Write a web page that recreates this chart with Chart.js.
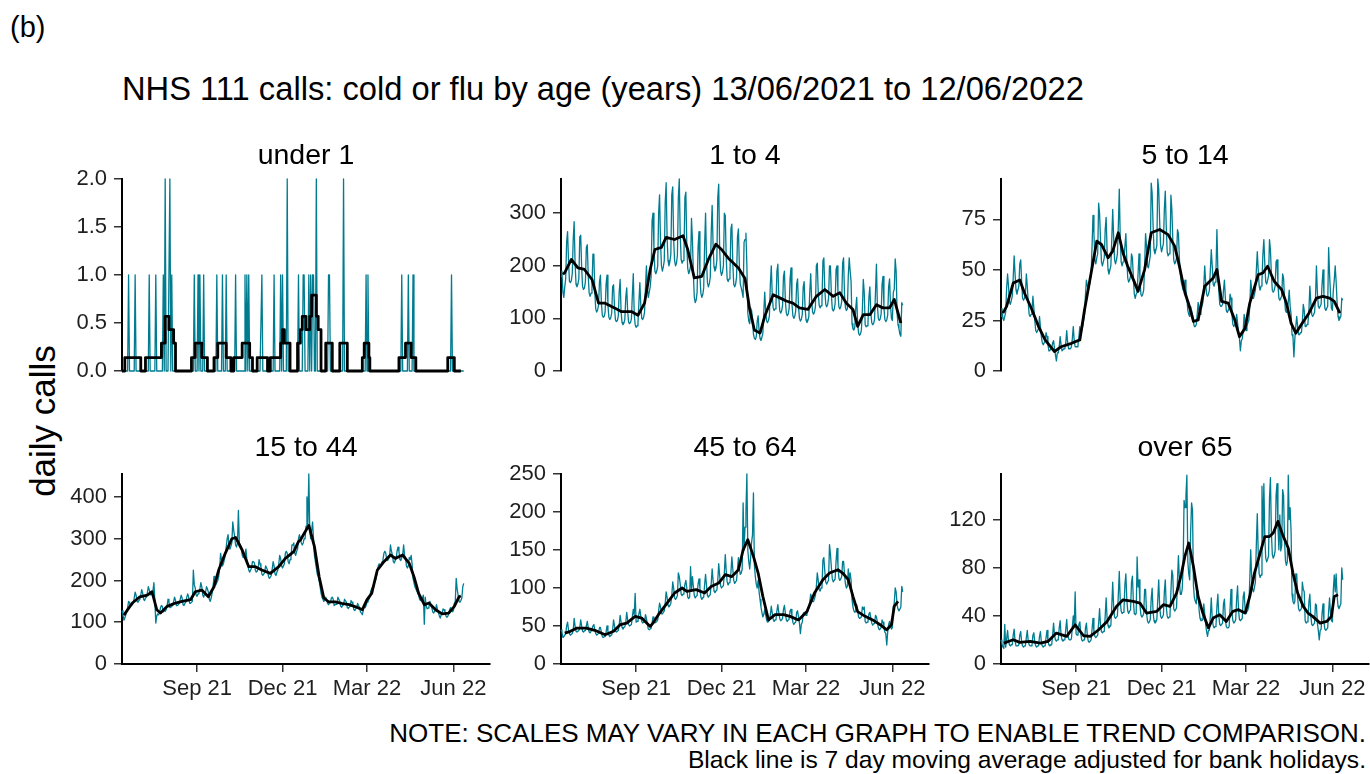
<!DOCTYPE html>
<html>
<head>
<meta charset="utf-8">
<script src="https://cdn.jsdelivr.net/npm/chart.js@4.4.0/dist/chart.umd.min.js"></script>
<style>
html,body{margin:0;padding:0;background:#fff;}
body{width:1370px;height:774px;position:relative;overflow:hidden;font-family:"Liberation Sans",Arial,sans-serif;color:#000;}
.t{position:absolute;white-space:nowrap;line-height:1;}
canvas{position:absolute;}
</style>
</head>
<body>
<script>
// ---------------- DATA ----------------
// Day index 0 = 13/06/2021 ... 364 = 12/06/2022
const X_TICK_DAYS = [80, 171, 261, 353];
const X_TICK_LABELS = ['Sep 21', 'Dec 21', 'Mar 22', 'Jun 22'];

// under 1: days with non-zero calls (all other days are 0)
const under1SpikeDays = [7,14,29,36,44,46,51,53,77,81,83,87,101,107,111,121,131,133,135,149,162,169,171,176,188,193,194,199,201,203,204,207,220,221,236,260,262,298,305,310,351];
const under1SpikeValues = [1,1,1,1,1,2,2,1,1,1,1,1,1,1,1,1,1,1,1,1,1,1,1,2,1,1,1,1,1,1,1,2,1,1,2,1,1,1,1,1,1];
// under 1: 7 day average (step changes)
const under1AvgDays = [0,3,20,25,42,46,50,55,57,74,78,85,91,98,102,111,116,119,128,136,139,144,155,158,169,171,173,179,187,190,192,196,200,202,207,209,212,217,224,232,240,256,258,263,264,295,302,308,313,347,354,361];
const under1AvgValues = [0,.14,0,.14,.29,.57,.43,.29,0,.14,.29,.14,0,.14,.29,.14,0,.14,.29,.14,0,.14,0,.14,.29,.43,.29,0,.29,.43,.57,.43,.57,.79,.57,.43,0,.29,0,.29,0,.14,.29,.14,0,.14,.29,.14,0,.14,0,0];
const under1YTicks = [0, 0.5, 1, 1.5, 2];
const under1YLabels = ['0.0', '0.5', '1.0', '1.5', '2.0'];

// 1 to 4: daily calls
const calls1to4 = [
180,190,150,140,160,175,245,
265,210,170,168,172,185,250,
284,205,165,160,165,175,255,
258,196,160,155,158,170,235,
240,182,148,142,148,160,222,
222,150,118,112,116,125,170,
182,130,106,102,104,112,165,
182,125,102,98,101,110,160,
164,120,97,94,96,104,150,
174,113,92,88,91,98,140,
158,114,93,90,92,99,145,
185,108,88,83,86,92,130,
168,125,100,98,102,112,160,
200,160,140,150,160,180,285,
300,235,190,185,190,200,300,
335,245,200,190,198,210,320,
358,255,210,200,208,222,335,
350,250,210,200,205,220,330,
365,258,212,205,210,225,330,
340,240,195,185,190,200,290,
250,185,140,130,135,150,235,
265,180,148,140,145,158,240,
300,210,168,160,166,178,262,
315,240,198,190,195,210,330,
355,232,190,182,188,200,300,
295,215,175,170,175,185,270,
279,205,165,160,165,178,255,
270,200,165,158,150,140,245,
250,262,200,110,95,90,120,
115,100,70,62,60,65,95,
105,75,62,58,64,72,110,
150,115,95,92,96,105,165,
200,145,120,115,118,128,190,
203,140,115,110,114,124,180,
190,133,110,105,108,118,175,
196,128,105,100,104,114,165,
175,122,100,95,98,107,160,
170,120,97,92,96,104,150,
185,135,112,108,112,122,200,
205,150,125,120,124,135,209,
215,155,127,122,126,138,200,
200,145,118,114,117,128,193,
200,150,122,118,122,132,205,
215,145,120,115,118,180,215,
190,170,90,80,78,84,120,
140,90,72,68,70,78,115,
174,150,88,84,86,92,140,
160,112,92,88,90,98,150,
203,125,100,96,99,108,165,
180,120,98,94,97,106,160,
175,125,100,96,150,155,213,
190,110,88,80,70,66,130,
125];
const avg1to4Days = [2,4,11,18,25,33,40,47,57,64,75,82,89,95,100,107,112,121,130,135,142,150,157,165,171,178,189,196,201,206,212,217,226,233,240,247,254,263,272,281,290,297,304,311,316,322,329,336,343,350,355,362];
const avg1to4Values = [184,187,212,196,193,174,129,129,120,113,113,106,129,193,231,235,254,250,257,231,177,180,212,241,231,215,196,176,117,78,72,104,145,139,133,129,120,117,142,155,142,149,129,117,85,107,107,126,120,120,136,91];
const yTicks1to4 = [0, 100, 200, 300];

// 5 to 14
const calls5to14 = [
27,31,26,25,27,29,41,
48,42,34,33,35,37,46,
57,48,40,38,40,42,53,
55,44,36,35,36,38,48,
42,34,28,27,28,30,37,
31,25,20,19,20,21,27,
22,17,14,13,14,15,19,
17,13,10,10,11,11,14,
15,11,8,5,9,9,12,
17,13,10,10,11,11,14,
20,14,11,11,11,12,16,
22,15,12,12,12,13,17,
22,18,20,22,25,28,38,
45,42,40,42,45,48,62,
77,68,55,53,56,58,83,
78,65,54,52,54,56,70,
76,60,50,48,50,52,65,
80,66,55,53,55,58,72,
90,66,54,52,54,56,62,
68,55,46,44,45,47,58,
56,46,38,36,38,39,48,
58,46,38,37,38,40,52,
68,62,52,51,54,57,93,
88,72,60,58,60,62,95,
90,74,62,59,61,63,80,
89,72,59,57,58,60,87,
80,65,55,53,54,56,70,
68,56,48,44,42,40,42,
45,40,36,30,28,27,32,
30,28,24,22,22,23,28,
34,30,28,30,32,34,42,
52,44,38,37,38,40,50,
60,52,43,42,44,50,70,
50,40,33,32,32,33,40,
45,36,30,29,30,31,38,
36,28,23,22,23,23,28,
24,19,16,10,15,16,20,
28,24,20,22,24,25,32,
45,40,36,36,38,40,50,
59,50,42,40,42,45,58,
65,53,44,43,45,47,65,
60,48,40,39,40,42,54,
55,43,36,35,36,37,48,
46,36,30,29,30,34,40,
32,28,18,17,7,16,22,
27,22,18,18,19,19,24,
33,30,22,22,23,24,30,
42,34,28,27,28,29,36,
52,39,32,31,32,33,43,
50,38,31,30,31,32,61,
48,38,31,30,40,45,52,
44,34,27,25,26,27,36,
35];
const avg5to14Days = [2,6,13,20,25,33,40,47,57,64,75,84,89,96,102,107,114,119,125,130,135,141,146,153,160,169,178,185,190,196,200,205,210,217,226,230,235,242,249,254,260,265,274,279,284,291,299,304,309,314,321,328,336,343,350,355,361];
const avg5to14Values = [28.6,32,43.5,45,38.6,30.3,22,15.4,9.6,12,13.7,15.4,30.3,48.5,64.2,62.6,56,59.3,68.4,58.4,51.8,45.2,39.4,50.2,68.4,70,67.5,61.8,52,38.6,33,24.5,25.3,41.9,46,50.2,34.4,33.6,25.3,17,21.2,33.6,47.7,48.5,51.8,44.4,40.2,33.6,23.7,18.7,23.7,28.6,36.1,36.9,36.1,34.4,28.6];
const yTicks5to14 = [0, 25, 50, 75];

// 15 to 44
const calls15to44 = [
128,118,105,110,118,125,135,
150,148,138,140,142,145,158,
172,165,150,148,152,155,165,
178,170,155,152,158,160,170,
185,178,168,165,172,176,195,
150,98,115,120,118,122,135,
140,138,125,128,126,130,138,
155,148,135,136,138,140,150,
160,152,140,140,142,145,155,
165,158,142,140,145,148,160,
168,160,146,145,148,150,225,
190,182,165,162,168,172,180,
195,185,165,160,168,172,185,
180,172,155,150,158,170,185,
210,200,190,195,200,210,230,
265,250,235,240,250,260,280,
300,310,280,275,282,290,340,
320,305,285,280,290,368,290,
285,280,262,255,258,262,275,
250,240,225,220,225,230,245,
245,242,225,220,222,228,250,
240,232,215,212,215,220,235,
230,225,210,205,208,212,228,
245,235,215,212,220,225,240,
260,252,235,230,235,240,265,
270,265,245,240,250,255,285,
285,290,265,260,270,275,300,
310,300,290,285,290,300,300,
330,400,335,455,320,300,320,
340,300,260,245,230,215,210,
200,185,170,160,155,150,155,
160,155,145,142,145,147,158,
160,155,140,142,143,145,160,
155,150,138,136,140,142,155,
152,148,135,133,136,138,152,
148,143,130,128,132,134,145,
140,136,125,122,118,128,140,
135,140,148,150,155,160,175,
180,185,190,195,200,210,225,
235,240,232,238,245,250,265,
270,265,250,248,252,258,285,
270,262,245,242,248,252,270,
280,270,250,248,255,262,285,
260,255,235,230,235,255,250,
260,240,205,195,185,180,175,
170,165,155,152,155,158,165,
95,160,140,132,134,138,150,
140,135,125,122,126,130,142,
130,125,115,110,118,122,132,
130,125,115,112,114,120,130,
135,130,125,128,145,150,205,
180,165,150,148,152,158,185,
193];
const avg15to44Days = [2,11,19,27,32,37,41,48,57,64,73,78,85,92,98,103,110,117,121,128,135,142,149,158,167,174,183,188,190,199,205,210,215,220,227,234,242,249,256,261,266,272,279,286,291,299,306,311,316,322,327,334,341,348,354,359,361];
const avg15to44Values = [117,146,161,165,173,130,122,138,146,150,154,173,177,161,185,225,265,300,303,273,233,233,225,217,233,253,269,293,297,332,281,209,158,149,149,145,142,137,130,154,169,225,245,261,253,261,241,209,169,142,146,130,120,122,138,161,163];
const yTicks15to44 = [0, 100, 200, 300, 400];

// 45 to 64
const calls45to64 = [
45,42,35,36,38,40,50,
55,45,40,38,39,40,44,
60,50,43,42,43,44,48,
58,50,43,42,44,44,50,
56,48,42,41,43,43,50,
52,45,40,38,39,40,48,
48,42,36,35,36,36,42,
50,43,38,36,38,38,45,
58,50,43,42,43,44,52,
64,55,48,46,48,49,55,
68,58,52,50,51,52,62,
72,65,93,55,56,57,66,
72,63,56,54,55,55,65,
60,52,46,45,46,47,54,
62,60,54,55,56,58,70,
80,75,66,66,68,70,80,
95,88,77,75,77,80,90,
108,100,87,85,87,90,120,
115,105,92,90,92,95,105,
110,100,88,86,88,128,98,
115,102,90,87,89,90,105,
112,100,88,85,87,88,105,
118,103,90,88,90,91,106,
125,110,96,94,96,97,110,
132,117,103,100,102,103,120,
144,122,108,104,107,108,120,
141,125,110,106,108,110,125,
140,125,118,120,125,212,150,
180,200,250,150,135,125,140,
160,170,225,130,115,105,100,
110,95,85,75,68,62,65,
72,65,58,55,56,58,65,
76,67,59,56,58,59,70,
78,68,60,57,58,60,72,
77,67,58,56,58,59,70,
72,63,55,52,54,55,68,
70,62,54,40,52,55,66,
68,66,64,66,70,74,82,
92,88,82,82,86,90,102,
120,110,98,96,100,102,137,
140,122,108,105,108,110,157,
145,127,112,108,110,112,135,
152,130,113,110,112,115,135,
135,118,105,100,102,125,110,
120,110,85,75,70,68,70,
78,70,62,60,61,62,75,
72,75,56,54,55,56,66,
68,61,54,51,53,53,64,
62,55,48,45,46,48,58,
55,47,42,40,25,42,52,
56,50,46,48,75,80,100,
95,78,72,70,72,75,102,
95];
const avg45to64Days = [4,10,17,27,36,47,56,63,70,79,86,95,98,105,113,121,129,134,144,153,160,168,175,182,189,194,199,205,210,215,221,228,237,244,253,262,270,279,286,295,300,306,311,316,324,332,340,347,352,355,359];
const avg45to64Values = [40.7,43,47.3,47.3,44.3,38.5,43,51.7,53.9,62.7,60.5,49.5,53.9,67,80,93.4,100,95.6,97.8,93.4,102,106.5,117.5,115,124,150,163.6,141.6,119.7,89,58,65,65,62.7,58,69,93.4,111,119.7,124,119.7,111,89,69,62.7,58,51.7,45,51.7,76,82.4];
const yTicks45to64 = [0, 50, 100, 150, 200, 250];

// over 65
const callsOver65 = [
20,17,14,13,33,14,21,
28,19,16,15,16,16,24,
29,19,15,15,15,16,24,
27,18,15,14,15,15,22,
28,19,16,15,15,16,24,
26,18,15,14,15,15,23,
27,18,15,14,15,15,22,
28,19,16,15,16,16,24,
34,24,20,19,20,20,30,
36,24,20,19,20,20,29,
37,25,21,20,20,21,31,
40,32,60,25,24,25,33,
35,25,20,19,20,20,30,
34,23,19,18,19,20,29,
38,27,23,22,23,24,34,
46,32,27,26,27,27,40,
55,38,32,30,31,32,48,
68,47,39,38,39,40,58,
77,53,44,42,43,45,66,
75,54,44,42,44,45,68,
73,52,42,41,42,89,64,
70,49,41,39,40,42,62,
62,43,36,34,35,37,54,
63,43,36,34,35,37,54,
70,48,40,38,39,41,60,
70,48,40,38,39,41,60,
78,74,46,44,45,47,70,
90,70,58,58,62,80,136,
130,140,157,85,75,70,110,
134,128,65,55,52,50,62,
60,45,38,36,36,37,50,
42,33,27,23,28,28,40,
55,38,32,30,31,32,48,
58,40,33,32,33,34,50,
54,37,31,30,30,31,46,
62,43,36,34,35,37,54,
65,45,37,36,37,38,56,
60,46,42,42,45,48,70,
95,72,62,60,64,68,100,
125,92,75,72,74,148,105,
150,106,88,85,87,90,138,
155,110,91,88,90,94,140,
150,115,95,124,94,98,145,
140,103,86,82,85,157,120,
130,110,58,52,50,52,75,
75,55,46,44,45,46,68,
62,60,36,34,35,37,52,
58,40,33,32,33,34,50,
49,34,28,20,28,29,42,
50,35,29,28,29,30,44,
55,42,36,35,62,74,60,
75,57,48,46,48,50,80,
70];
const avgOver65Days = [3,13,20,31,42,50,59,70,79,88,95,104,113,123,130,141,148,155,166,173,180,187,192,196,200,205,210,215,221,226,233,240,247,253,260,265,270,276,281,286,290,295,300,306,311,316,322,327,332,340,347,352,355,359];
const avgOver65Values = [17.4,20.2,18,18.8,17.4,18.8,25.7,23,32.6,23.5,23,28.5,35.4,47.9,53.4,52,50.7,42.4,43.8,49.3,48,59,74.2,90,100.6,81,56,42.4,30,38.2,41,35.4,43.8,45.2,42.4,56.2,75.6,92.2,106,106,109,118.6,107.5,96.4,75.6,59,47.9,42.4,39.6,34,35.4,39.6,56.2,57.6];
const yTicksOver65 = [0, 40, 80, 120];

// ---------------- LAYOUT ----------------
const FONT = "'Liberation Sans', Arial, sans-serif";
const TEAL = '#007c91';
const COL_X = [122, 561, 1001];
const ROW_TOP = [179, 474];
const ROW_BOTTOM = [371, 664];
const PLOT_W = 368;
const X_MAX = 392;
const LEFT_SPACE = 90;
const PAD = 24;
const X_AXIS_H = 48;

Chart.defaults.font.family = FONT;

const under1Daily = new Array(365).fill(0);
under1SpikeDays.forEach((d, i) => { under1Daily[d] = under1SpikeValues[i]; });

const panels = [
  {title: 'under 1', daily: under1Daily, avgDays: under1AvgDays, avgVals: under1AvgValues, yMax: 2, yTicks: under1YTicks, yLabels: under1YLabels, stepped: true},
  {title: '1 to 4', daily: calls1to4, avgDays: avg1to4Days, avgVals: avg1to4Values, yMax: 365, yTicks: yTicks1to4},
  {title: '5 to 14', daily: calls5to14, avgDays: avg5to14Days, avgVals: avg5to14Values, yMax: 95, yTicks: yTicks5to14},
  {title: '15 to 44', daily: calls15to44, avgDays: avg15to44Days, avgVals: avg15to44Values, yMax: 455, yTicks: yTicks15to44},
  {title: '45 to 64', daily: calls45to64, avgDays: avg45to64Days, avgVals: avg45to64Values, yMax: 250, yTicks: yTicks45to64},
  {title: 'over 65', daily: callsOver65, avgDays: avgOver65Days, avgVals: avgOver65Values, yMax: 158, yTicks: yTicksOver65}
];

function addText(txt, o) {
  const d = document.createElement('div');
  d.className = 't';
  d.textContent = txt;
  d.style.fontSize = o.size + 'px';
  d.style.top = (o.baseline - 0.8465 * o.size) + 'px';
  if (o.left !== undefined) d.style.left = o.left + 'px';
  if (o.right !== undefined) d.style.right = (1370 - o.right) + 'px';
  if (o.cx !== undefined) { d.style.left = o.cx + 'px'; d.style.transform = 'translateX(-50%)'; }
  document.body.appendChild(d);
  return d;
}

addText('(b)', {left: 10, baseline: 38, size: 29});
addText('NHS 111 calls: cold or flu by age (years) 13/06/2021 to 12/06/2022', {left: 122, baseline: 101, size: 32.7});
addText('NOTE: SCALES MAY VARY IN EACH GRAPH TO ENABLE TREND COMPARISON.', {right: 1366, baseline: 742, size: 26});
addText('Black line is 7 day moving average adjusted for bank holidays.', {right: 1366, baseline: 769, size: 24.6});

const yl = document.createElement('div');
yl.className = 't';
yl.textContent = 'daily calls';
yl.style.fontSize = '35px';
yl.style.left = '41.5px';
yl.style.top = '421px';
yl.style.transform = 'translate(-50%,-50%) rotate(-90deg)';
document.body.appendChild(yl);

panels.forEach((p, idx) => {
  const c = idx % 3, r = Math.floor(idx / 3);
  const plotH = ROW_BOTTOM[r] - ROW_TOP[r];
  const bottomSpace = r === 1 ? X_AXIS_H : PAD;
  const W = LEFT_SPACE + PLOT_W + 12;
  const H = PAD + plotH + bottomSpace;
  const cv = document.createElement('canvas');
  cv.width = W; cv.height = H;
  cv.style.left = (COL_X[c] - LEFT_SPACE) + 'px';
  cv.style.top = (ROW_TOP[r] - PAD) + 'px';
  cv.style.width = W + 'px'; cv.style.height = H + 'px';
  document.body.appendChild(cv);

  addText(p.title, {cx: COL_X[c] + PLOT_W / 2, baseline: r === 0 ? 164 : 456, size: 28.5});

  const tealPts = p.daily.map((v, i) => ({x: i, y: v}));
  const avgPts = p.avgDays.map((d, i) => ({x: d, y: p.avgVals[i]}));

  new Chart(cv, {
    type: 'line',
    data: {
      datasets: [
        {data: avgPts, borderColor: '#000', borderWidth: 2.8, order: 0, stepped: p.stepped ? 'before' : false,
         pointRadius: 0, tension: 0, clip: 6, borderJoinStyle: 'round'},
        {data: tealPts, borderColor: TEAL, borderWidth: 1.3, order: 1, pointRadius: 0, tension: 0, clip: 6,
         borderJoinStyle: 'round'}
      ]
    },
    options: {
      responsive: false, maintainAspectRatio: false, animation: false, devicePixelRatio: 1,
      events: [],
      layout: {padding: {left: 0, right: 12, top: PAD, bottom: r === 1 ? 0 : PAD}},
      plugins: {legend: {display: false}, tooltip: {enabled: false}},
      scales: {
        x: {
          type: 'linear', min: 0, max: X_MAX, display: r === 1,
          afterFit: s => { if (r === 1) { s.height = X_AXIS_H; } s.paddingLeft = 0; s.paddingRight = 0; },
          afterBuildTicks: s => { s.ticks = X_TICK_DAYS.map(v => ({value: v})); },
          border: {display: true, color: '#000', width: 2},
          grid: {drawOnChartArea: false, drawTicks: true, tickLength: 8, color: '#333', lineWidth: 1.5},
          ticks: {autoSkip: false, maxRotation: 0, minRotation: 0, padding: 4, color: '#1f1f1f',
                  font: {size: 22, family: FONT}, callback: (v, i) => X_TICK_LABELS[i]}
        },
        y: {
          min: 0, max: p.yMax,
          afterFit: s => { s.width = LEFT_SPACE; },
          afterBuildTicks: s => { s.ticks = p.yTicks.map(v => ({value: v})); },
          border: {display: true, color: '#000', width: 2},
          grid: {drawOnChartArea: false, drawTicks: true, tickLength: 8, color: '#333', lineWidth: 1.5},
          ticks: {padding: 7, color: '#1f1f1f', font: {size: 22, family: FONT},
                  callback: (v, i) => p.yLabels ? p.yLabels[i] : String(p.yTicks[i])}
        }
      }
    }
  });
});
</script>
</body>
</html>
